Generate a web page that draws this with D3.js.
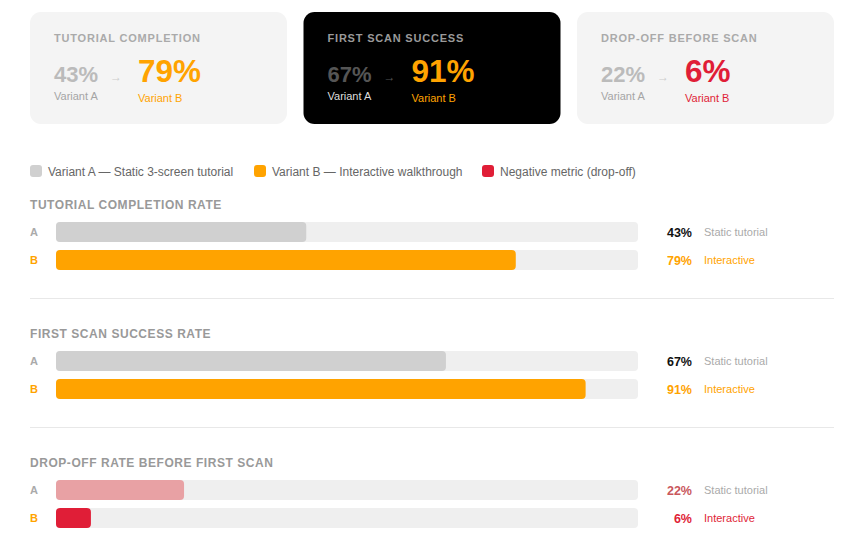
<!DOCTYPE html>
<html>
<head>
<meta charset="utf-8">
<script src="https://cdn.jsdelivr.net/npm/d3@7"></script>
<style>
  body { margin: 0; background: #fff; font-family: "Liberation Sans", Arial, Helvetica, sans-serif; }
</style>
</head>
<body>
<svg id="chart" width="853" height="556"></svg>
<script>
// Data
const cardTitles = ["TUTORIAL COMPLETION", "FIRST SCAN SUCCESS", "DROP-OFF BEFORE SCAN"];
const cardA = [43, 67, 22];
const cardB = [79, 91, 6];
const metricTitles = ["TUTORIAL COMPLETION RATE", "FIRST SCAN SUCCESS RATE", "DROP-OFF RATE BEFORE FIRST SCAN"];
const valuesA = [43, 67, 22];
const valuesB = [79, 91, 6];
const negative = [false, false, true];
const variantNames = ["A", "B"];
const variantNotes = ["Static tutorial", "Interactive"];
const legendLabels = ["Variant A — Static 3-screen tutorial", "Variant B — Interactive walkthrough", "Negative metric (drop-off)"];

const grayA = "#d0d0d0";
const orange = "#ffa300";
const red = "#e01e37";
const pinkA = "#e8a1a4";
const track = "#efefef";

const svg = d3.select("#chart");

// KPI cards
const cardW = 257, cardH = 112, cardGap = 16.5;
const cardX = d3.scaleLinear().domain([0, 1]).range([30, 30 + cardW + cardGap]);

const cards = svg.selectAll("g.card")
    .data(cardTitles)
    .enter()
    .append("g")
    .attr("class", "card")
    .attr("transform", (d, i) => `translate(${cardX(i)}, 12)`);

cards.append("rect")
    .attr("width", cardW)
    .attr("height", cardH)
    .attr("rx", 11)
    .attr("fill", (d, i) => i === 1 ? "#000" : "#f4f4f4");

cards.append("text")
    .attr("x", 24)
    .attr("y", 30)
    .attr("font-size", 11)
    .attr("font-weight", "bold")
    .attr("letter-spacing", "0.8px")
    .attr("fill", (d, i) => i === 1 ? "#9a9a9a" : "#aaa")
    .text(d => d);

cards.append("text")
    .attr("x", 24)
    .attr("y", 70)
    .attr("font-size", 22)
    .attr("font-weight", "bold")
    .attr("fill", (d, i) => i === 1 ? "#555" : "#bbb")
    .text((d, i) => cardA[i] + "%");

cards.append("text")
    .attr("x", 80)
    .attr("y", 69)
    .attr("font-size", 12)
    .attr("fill", (d, i) => i === 1 ? "#555" : "#ccc")
    .text("→");

cards.append("text")
    .attr("x", 108)
    .attr("y", 70)
    .attr("font-size", 31.5)
    .attr("font-weight", "bold")
    .attr("fill", (d, i) => negative[i] ? red : orange)
    .text((d, i) => cardB[i] + "%");

cards.append("text")
    .attr("x", 24)
    .attr("y", 88)
    .attr("font-size", 11)
    .attr("fill", (d, i) => i === 1 ? "#ddd" : "#a5a5a5")
    .text("Variant A");

cards.append("text")
    .attr("x", 108)
    .attr("y", 90)
    .attr("font-size", 11)
    .attr("fill", (d, i) => negative[i] ? red : orange)
    .text("Variant B");

// Legend
const legendColors = [grayA, orange, red];
const legendX = [30, 254, 482];
const legend = svg.selectAll("g.legend")
    .data(legendLabels)
    .enter()
    .append("g")
    .attr("class", "legend")
    .attr("transform", (d, i) => `translate(${legendX[i]}, 165)`);

legend.append("rect")
    .attr("width", 12)
    .attr("height", 12)
    .attr("rx", 3)
    .attr("fill", (d, i) => legendColors[i]);

legend.append("text")
    .attr("x", 18)
    .attr("y", 10.5)
    .attr("font-size", 12)
    .attr("fill", "#666")
    .text(d => d);

// Metric sections
const x = d3.scaleLinear().domain([0, 100]).range([56, 638]);
const sectionY = d3.scaleLinear().domain([0, 1]).range([196, 325]);
const barH = 20;
const rowY = d3.scalePoint().domain(variantNames).range([26, 54]);

metricTitles.forEach((title, i) => {
    const g = svg.append("g").attr("transform", `translate(0, ${sectionY(i)})`);

    g.append("text")
        .attr("x", 30)
        .attr("y", 12.5)
        .attr("font-size", 12)
        .attr("font-weight", "bold")
        .attr("letter-spacing", "0.55px")
        .attr("fill", "#999")
        .text(title);

    const rows = [valuesA[i], valuesB[i]];
    const fills = negative[i] ? [pinkA, red] : [grayA, orange];
    const valueColors = negative[i] ? ["#c9575c", red] : ["#111", orange];
    const noteColors = negative[i] ? ["#aaa", red] : ["#aaa", orange];

    const row = g.selectAll("g.row")
        .data(rows)
        .enter()
        .append("g")
        .attr("transform", (d, j) => `translate(0, ${rowY(variantNames[j])})`);

    row.append("text")
        .attr("x", 30)
        .attr("y", barH / 2 + 4)
        .attr("font-size", 11)
        .attr("font-weight", "bold")
        .attr("fill", (d, j) => j === 0 ? "#aaa" : orange)
        .text((d, j) => variantNames[j]);

    row.append("rect")
        .attr("x", x(0))
        .attr("width", x(100) - x(0))
        .attr("height", barH)
        .attr("rx", 4)
        .attr("fill", track);

    row.append("rect")
        .attr("x", x(0))
        .attr("width", d => x(d) - x(0))
        .attr("height", barH)
        .attr("rx", 4)
        .attr("fill", (d, j) => fills[j]);

    row.append("text")
        .attr("x", 692)
        .attr("y", barH / 2 + 4.5)
        .attr("text-anchor", "end")
        .attr("font-size", 12.5)
        .attr("font-weight", "bold")
        .attr("fill", (d, j) => valueColors[j])
        .text(d => d + "%");

    row.append("text")
        .attr("x", 704)
        .attr("y", barH / 2 + 4)
        .attr("font-size", 11)
        .attr("fill", (d, j) => noteColors[j])
        .text((d, j) => variantNotes[j]);

    if (i < metricTitles.length - 1) {
        g.append("line")
            .attr("x1", 30)
            .attr("x2", 834)
            .attr("y1", 102.5)
            .attr("y2", 102.5)
            .attr("stroke", "#e8e8e8");
    }
});
</script>
</body>
</html>
